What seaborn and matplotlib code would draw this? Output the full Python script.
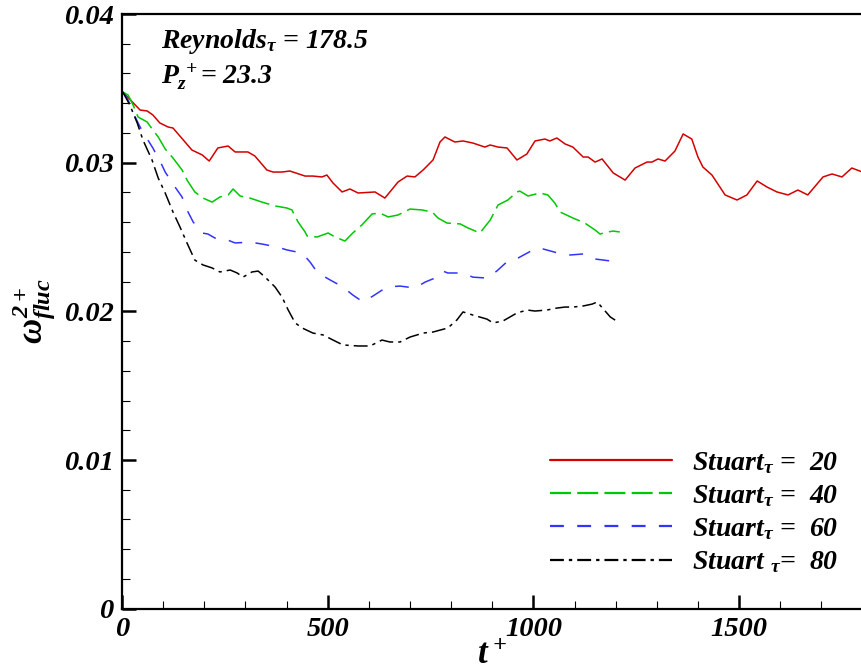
import numpy as np
import pandas as pd
import seaborn as sns
import matplotlib
matplotlib.use("Agg")
import matplotlib.pyplot as plt
from matplotlib.ticker import MultipleLocator, FuncFormatter

# values
t_20 = [2, 44, 61, 75, 92, 112, 124, 170, 195, 212, 233, 258, 275, 306, 323, 352, 367,
        389, 408, 445, 464, 486, 498, 513, 535, 554, 574, 615, 639, 671, 693, 712, 732,
        756, 773, 785, 809, 829, 853, 882, 895, 914, 936, 960, 984, 1004, 1028, 1040,
        1057, 1077, 1096, 1121, 1133, 1150, 1167, 1194, 1223, 1247, 1276, 1288, 1303,
        1320, 1344, 1364, 1385, 1400, 1412, 1434, 1466, 1495, 1519, 1544, 1568, 1592,
        1619, 1643, 1667, 1704, 1726, 1750, 1774, 1800]
w_20 = [0.03475, 0.03354, 0.03348, 0.03321, 0.03267, 0.03240, 0.03233, 0.03085, 0.03052,
        0.03011, 0.03099, 0.03112, 0.03072, 0.03072, 0.03045, 0.02951, 0.02937, 0.02937,
        0.02944, 0.02910, 0.02910, 0.02904, 0.02917, 0.02863, 0.02803, 0.02823, 0.02796,
        0.02803, 0.02762, 0.02870, 0.02910, 0.02904, 0.02951, 0.03018, 0.03139, 0.03173,
        0.03139, 0.03146, 0.03132, 0.03105, 0.03119, 0.03105, 0.03099, 0.03018, 0.03058,
        0.03146, 0.03159, 0.03146, 0.03166, 0.03126, 0.03105, 0.03038, 0.03038, 0.03004,
        0.03025, 0.02931, 0.02883, 0.02964, 0.03004, 0.03004, 0.03025, 0.03011, 0.03078,
        0.03193, 0.03159, 0.03038, 0.02971, 0.02917, 0.02783, 0.02749, 0.02783, 0.02877,
        0.02836, 0.02803, 0.02783, 0.02816, 0.02783, 0.02904, 0.02924, 0.02904, 0.02964,
        0.02937]

t_40 = [2, 15, 27, 39, 61, 75, 88, 105, 124, 146, 158, 177, 197, 219, 238, 258, 270, 287,
        311, 340, 372, 401, 413, 428, 445, 450, 474, 501, 518, 542, 561, 583, 608, 627,
        647, 671, 700, 729, 754, 768, 790, 822, 841, 870, 895, 914, 938, 960, 967, 987,
        1016, 1035, 1052, 1065, 1096, 1125, 1150, 1162, 1181, 1194, 1210]
w_40 = [0.03475, 0.03455, 0.03388, 0.03307, 0.03274, 0.03220, 0.03173, 0.03092, 0.03031,
        0.02951, 0.02883, 0.02803, 0.02762, 0.02735, 0.02769, 0.02783, 0.02823, 0.02776,
        0.02762, 0.02735, 0.02709, 0.02695, 0.02682, 0.02601, 0.02534, 0.02507, 0.02500,
        0.02527, 0.02500, 0.02473, 0.02527, 0.02581, 0.02655, 0.02661, 0.02635, 0.02648,
        0.02688, 0.02682, 0.02668, 0.02628, 0.02594, 0.02588, 0.02561, 0.02527, 0.02614,
        0.02715, 0.02749, 0.02803, 0.02809, 0.02776, 0.02796, 0.02783, 0.02729, 0.02668,
        0.02628, 0.02594, 0.02547, 0.02520, 0.02534, 0.02540, 0.02534]

t_60 = [2, 15, 32, 44, 63, 75, 97, 105, 129, 146, 158, 173, 195, 209, 226, 250, 275, 311,
        340, 377, 401, 438, 457, 476, 506, 537, 561, 586, 610, 644, 676, 712, 737, 766,
        780, 792, 829, 853, 887, 911, 938, 963, 999, 1011, 1023, 1060, 1089, 1121, 1150,
        1187, 1204, 1211]
w_60 = [0.03475, 0.03421, 0.03307, 0.03240, 0.03152, 0.03099, 0.02984, 0.02937, 0.02836,
        0.02769, 0.02682, 0.02601, 0.02527, 0.02520, 0.02493, 0.02487, 0.02460, 0.02466,
        0.02453, 0.02433, 0.02413, 0.02392, 0.02332, 0.02258, 0.02211, 0.02164, 0.02110,
        0.02063, 0.02103, 0.02164, 0.02170, 0.02157, 0.02197, 0.02230, 0.02271, 0.02258,
        0.02258, 0.02230, 0.02224, 0.02271, 0.02339, 0.02359, 0.02413, 0.02426, 0.02420,
        0.02392, 0.02379, 0.02386, 0.02352, 0.02339, 0.02352, 0.02339]

t_80 = [2, 19, 37, 51, 73, 88, 105, 124, 141, 158, 177, 197, 219, 238, 263, 280, 294, 316,
        331, 348, 372, 389, 404, 421, 438, 464, 489, 513, 537, 574, 603, 632, 651, 676,
        700, 732, 756, 792, 814, 829, 853, 887, 902, 926, 960, 985, 1004, 1033, 1057,
        1077, 1096, 1121, 1143, 1155, 1170, 1187, 1206]
w_80 = [0.03475, 0.03388, 0.03267, 0.03152, 0.03018, 0.02897, 0.02796, 0.02668, 0.02567,
        0.02460, 0.02345, 0.02312, 0.02292, 0.02265, 0.02278, 0.02258, 0.02230, 0.02265,
        0.02271, 0.02230, 0.02164, 0.02096, 0.02009, 0.01922, 0.01888, 0.01854, 0.01841,
        0.01807, 0.01774, 0.01767, 0.01767, 0.01807, 0.01794, 0.01794, 0.01827, 0.01854,
        0.01861, 0.01888, 0.01942, 0.01996, 0.01975, 0.01948, 0.01922, 0.01935, 0.01989,
        0.02009, 0.02002, 0.02009, 0.02022, 0.02029, 0.02029, 0.02036, 0.02049, 0.02063,
        0.02016, 0.01962, 0.01928]

labels = ["Stuart$_\\tau$ =  20", "Stuart$_\\tau$ =  40",
          "Stuart$_\\tau$ =  60", "Stuart $_\\tau$=  80"]

sns.set_style("ticks")
plt.rcParams['font.family'] = ['Liberation Serif', 'DejaVu Serif']
plt.rcParams['font.weight'] = 'bold'
plt.rcParams['font.style'] = 'italic'
plt.rcParams['mathtext.fontset'] = 'custom'
plt.rcParams['mathtext.rm'] = 'Liberation Serif:bold:italic'
plt.rcParams['mathtext.it'] = 'Liberation Serif:bold:italic'
plt.rcParams['mathtext.bf'] = 'Liberation Serif:bold:italic'
plt.rcParams['lines.scale_dashes'] = False
for k in ['text.color', 'axes.labelcolor', 'xtick.color', 'ytick.color', 'axes.edgecolor']:
    plt.rcParams[k] = 'black'

fig = plt.figure(figsize=(8.61, 6.71), dpi=100)
ax = fig.add_axes([122 / 861, 1 - 608.7 / 671, 740.5 / 861, 594.7 / 671])

series = [
    (t_20, w_20, '#d40000', '-'),
    (t_40, w_40, '#00c800', (0, (15.1, 4.5))),
    (t_60, w_60, '#3333ff', (0, (10.0, 9.6))),
    (t_80, w_80, 'black', (0, (10.0, 3.6, 2.4, 3.6))),
]
for (t, w, c, ls), lab in zip(series, labels):
    sns.lineplot(x=t, y=w, ax=ax, color=c, linestyle=ls, linewidth=1.1, label=lab)

ax.set_xlim(0, 1800)
ax.set_ylim(0, 0.04)
ax.xaxis.set_major_locator(MultipleLocator(500))
ax.xaxis.set_minor_locator(MultipleLocator(100))
ax.yaxis.set_major_locator(MultipleLocator(0.01))
ax.yaxis.set_minor_locator(MultipleLocator(0.002))
ax.xaxis.set_major_formatter(FuncFormatter(lambda v, p: f"{v:g}"))
ax.yaxis.set_major_formatter(FuncFormatter(lambda v, p: f"{v:g}"))
ax.tick_params(which='major', direction='in', length=10, width=1.8, labelsize=20.5, pad=6,
               top=False, right=False)
ax.tick_params(which='minor', direction='in', length=5.5, width=0.8, top=False, right=False)
for s in ax.spines.values():
    s.set_linewidth(1.6)

ax.set_xlabel("$t^+$", fontsize=25, labelpad=-2)
ax.set_ylabel("$\\omega^{2+}_{fluc}$", fontsize=25, labelpad=4)

fig.text(161 / 861, 1 - 48 / 671, "Reynolds$_\\tau$ = 178.5", fontsize=20, va='baseline')
fig.text(161 / 861, 1 - 83 / 671, "$P_z^{\\,+}$= 23.3", fontsize=20, va='baseline')

leg = ax.legend(loc='upper left', bbox_to_anchor=(550 / 861, 1 - 450 / 671),
                bbox_transform=fig.transFigure, frameon=False, fontsize=20,
                handlelength=4.4, handletextpad=0.72, labelspacing=0.26, borderpad=0,
                borderaxespad=0)
for line in leg.get_lines():
    line.set_linewidth(1.6)

fig.savefig("out.png", dpi=100)
